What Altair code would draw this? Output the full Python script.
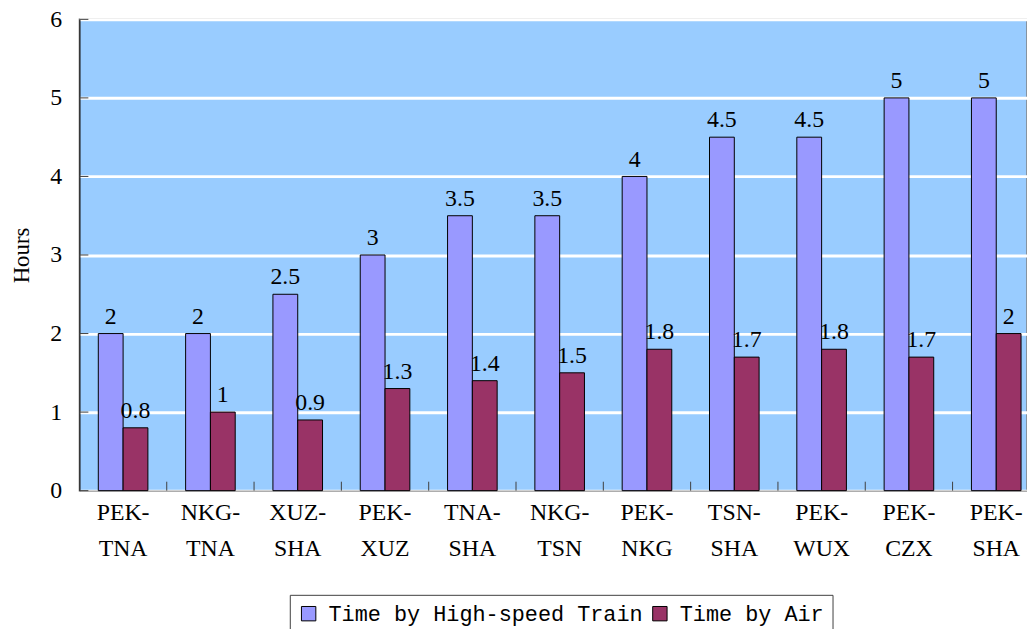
import altair as alt
import pandas as pd

routes = ["PEK-\nTNA", "NKG-\nTNA", "XUZ-\nSHA", "PEK-\nXUZ", "TNA-\nSHA", "NKG-\nTSN",
          "PEK-\nNKG", "TSN-\nSHA", "PEK-\nWUX", "PEK-\nCZX", "PEK-\nSHA"]
train = [2, 2, 2.5, 3, 3.5, 3.5, 4, 4.5, 4.5, 5, 5]
air = [0.8, 1, 0.9, 1.3, 1.4, 1.5, 1.8, 1.7, 1.8, 1.7, 2]
series = ["Time by High-speed Train", "Time by Air"]
y_ticks = [0, 1, 2, 3, 4, 5, 6]

rows = []
for r, t, a in zip(routes, train, air):
    rows.append({"route": r, "series": series[0], "value": t, "label": f"{t:g}"})
    rows.append({"route": r, "series": series[1], "value": a, "label": f"{a:g}"})
df = pd.DataFrame(rows)
tick_df = pd.DataFrame({"t": y_ticks})
route_df = pd.DataFrame({"route": routes})

SERIF = "Liberation Serif"
MONO = "Liberation Mono"

xscale = alt.Scale(domain=routes, range=[0, 968], paddingInner=0.432, paddingOuter=0.216)
yscale = alt.Scale(domain=[0, 6], nice=False)

x_enc = alt.X("route:N", sort=routes, scale=xscale,
              axis=alt.Axis(title=None, labelExpr="split(datum.label, '\\n')",
                            labelFont=SERIF, labelFontSize=24, labelLineHeight=36,
                            labelPadding=22, labelAngle=0, tickSize=0,
                            domainColor="#808080", labelColor="black", labelBaseline="middle"))
y_enc = alt.Y("value:Q", scale=yscale,
              axis=alt.Axis(title="Hours", values=y_ticks, format="d", titleFont=SERIF,
                            titleFontSize=23, titleFontWeight="normal", titlePadding=16,
                            titleColor="black",
                            labelFont=SERIF, labelFontSize=24, labelPadding=18, tickSize=0,
                            domainColor="black", labelColor="black",
                            grid=True, gridColor="white", gridWidth=3))
color = alt.Color("series:N", sort=series,
                  scale=alt.Scale(domain=series, range=["#9999FF", "#993366"]),
                  legend=alt.Legend(title=None, orient="none", legendX=212, legendY=580,
                                    direction="horizontal", labelFont=MONO, labelFontSize=22,
                                    labelLimit=0,
                                    labelColor="black", symbolType="square", symbolSize=210,
                                    symbolStrokeColor="black", symbolStrokeWidth=1,
                                    symbolOpacity=1, strokeColor="#404040", padding=8,
                                    columnPadding=6, labelOffset=9, fillColor="white"))
xoff = alt.XOffset("series:N", sort=series, scale=alt.Scale(paddingInner=0, paddingOuter=0))

bars = alt.Chart(df).mark_bar(stroke="black", strokeWidth=1).encode(
    x=x_enc, xOffset=xoff, y=y_enc, color=color)

labels = alt.Chart(df).mark_text(font=SERIF, fontSize=24, baseline="bottom", dy=-5,
                                 color="black").encode(
    x=alt.X("route:N", sort=routes, scale=xscale), xOffset=xoff,
    y=alt.Y("value:Q", scale=yscale), text="label:N")

yticks = alt.Chart(tick_df).mark_rule(color="#404040", strokeWidth=1).encode(
    y=alt.Y("t:Q", scale=yscale), x=alt.value(0), x2=alt.value(9))

xticks = alt.Chart(route_df).mark_rule(color="#404040", strokeWidth=1, xOffset=19).encode(
    x=alt.X("route:N", sort=routes, scale=xscale, bandPosition=1),
    y=alt.value(475), y2=alt.value(466))

chart = alt.layer(bars, xticks, yticks, labels).properties(
    width=955, height=475,
    autosize=alt.AutoSizeParams(type="none"),
    padding={"left": 72, "top": 9, "right": 0, "bottom": 137},
).configure_view(fill="#99CCFF", stroke="#808080", strokeWidth=1.5)

chart.save("out.html", embed_options={"renderer": "svg", "actions": False})
